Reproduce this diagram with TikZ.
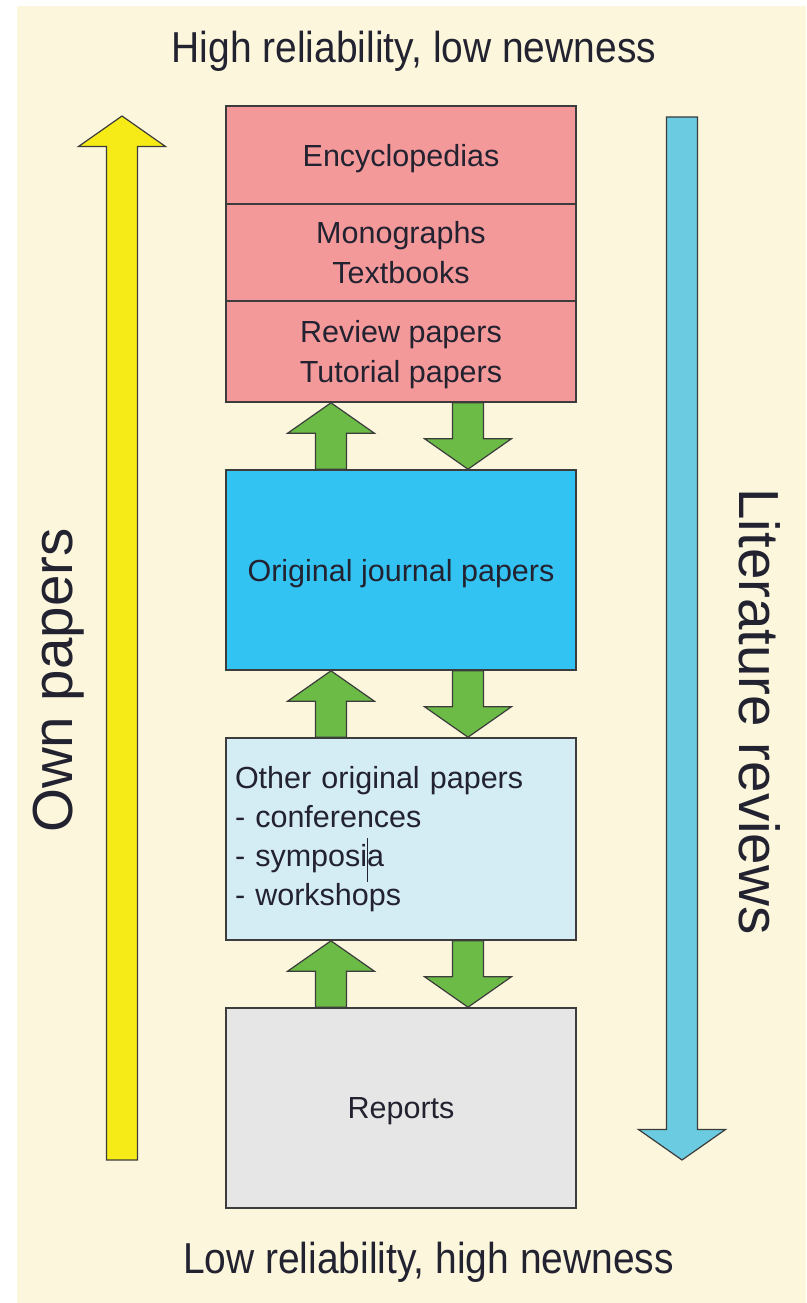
\documentclass[tikz,border=0pt]{standalone}
\usepackage{fontspec}
\setmainfont{Liberation Sans}
\usetikzlibrary{calc}

\definecolor{cream}{HTML}{FCF7DC}
\definecolor{rosebox}{HTML}{F4999A}
\definecolor{journalblue}{HTML}{33C3F3}
\definecolor{paleblue}{HTML}{D4ECF4}
\definecolor{reportgray}{HTML}{E6E6E6}
\definecolor{arrowgreen}{HTML}{6BBB46}
\definecolor{arrowyellow}{HTML}{F6EA17}
\definecolor{arrowblue}{HTML}{6BCBE0}
\definecolor{edgegray}{HTML}{3C3C3C}
\definecolor{inkgray}{HTML}{222230}

\newcommand{\arrshaft}{15.5pt}
\newcommand{\arrhead}{43.5pt}
\newcommand{\arrlen}{30.5pt}

\newcommand{\fatarrow}[3]{%
  \draw[#1] let \p1=(#2), \p2=(#3), \n1={\y2-sign(\y2-\y1)*\arrlen} in
    (\x1-\arrshaft,\y1) -- (\x1-\arrshaft,\n1*1pt) -- (\x1-\arrhead,\n1*1pt)
    -- (\x2,\y2) -- (\x1+\arrhead,\n1*1pt) -- (\x1+\arrshaft,\n1*1pt)
    -- (\x1+\arrshaft,\y1) -- cycle;
}

\begin{document}
\begin{tikzpicture}[x=1pt,y=-1pt,
    box/.style={rectangle, draw=edgegray, line width=1.6pt, text=inkgray,
      minimum width=350pt, inner sep=0pt, align=center,
      font=\fontsize{30.5}{40}\selectfont},
    centerbox/.style={box, text depth=0pt},
    endlabel/.style={text=inkgray, inner sep=0pt, xscale=0.9,
      font=\fontsize{43.3}{50}\selectfont},
    sidelabel/.style={text=inkgray, inner sep=0pt,
      font=\fontsize{56.5}{60}\selectfont},
    greenarrow/.style={fill=arrowgreen, draw=edgegray, line width=1.2pt, line join=miter},
    yellowarrow/.style={fill=arrowyellow, draw=edgegray, line width=1.2pt},
    bluearrow/.style={fill=arrowblue, draw=edgegray, line width=1.2pt}]

  \useasboundingbox (0,0) rectangle (806,1303);
  \fill[cream] (17,6) rectangle (806,1303);

  \begin{scope}[every node/.style={centerbox}]
    \node[fill=rosebox, minimum height=98pt] (enc) at (401,155) {Encyclopedias};
    \node[fill=rosebox, minimum height=97pt] (mono) at (401,252.5) {Monographs\\Textbooks};
    \node[fill=rosebox, minimum height=101pt] (rev) at (401,351.5) {Review papers\\Tutorial papers};
    \node[fill=journalblue, minimum height=200pt] (ojp) at (401,570) {Original journal papers};
    \node[fill=reportgray, minimum height=200pt] (rep) at (401,1108) {Reports};
  \end{scope}
  \node[box, fill=paleblue, minimum height=202pt, text width=332pt, align=left,
    font=\fontsize{30.5}{39.2}\selectfont] (oth) at (401,839)
    {Other original papers\\- conferences\\- symposia\\- workshops};

  \draw[inkgray, line width=1pt] (367.5,838) -- (367.5,882);

  \fatarrow{greenarrow}{$(ojp.north)+(-70,0)$}{$(rev.south)+(-70,0)$}
  \fatarrow{greenarrow}{$(rev.south)+(67,0)$}{$(ojp.north)+(67,0)$}
  \fatarrow{greenarrow}{$(oth.north)+(-70,0)$}{$(ojp.south)+(-70,0)$}
  \fatarrow{greenarrow}{$(ojp.south)+(67,0)$}{$(oth.north)+(67,0)$}
  \fatarrow{greenarrow}{$(rep.north)+(-70,0)$}{$(oth.south)+(-70,0)$}
  \fatarrow{greenarrow}{$(oth.south)+(67,0)$}{$(rep.north)+(67,0)$}

  \coordinate (ownlow) at (122,1160);
  \coordinate (ownhigh) at (122,116);
  \coordinate (revhigh) at (682,117);
  \coordinate (revlow) at (682,1160);
  \fatarrow{yellowarrow}{ownlow}{ownhigh}
  \fatarrow{bluearrow}{revhigh}{revlow}

  \node[endlabel, anchor=base] (hi) at (414,63) {High reliability, low newness};
  \node[endlabel, anchor=base] (lo) at (428.5,1273) {Low reliability, high newness};
  \node[sidelabel, rotate=90, anchor=base] (own) at (72.5,680.5) {Own papers};
  \node[sidelabel, rotate=-90, anchor=base] (lit) at (739.5,711.5) {Literature reviews};

\end{tikzpicture}
\end{document}
